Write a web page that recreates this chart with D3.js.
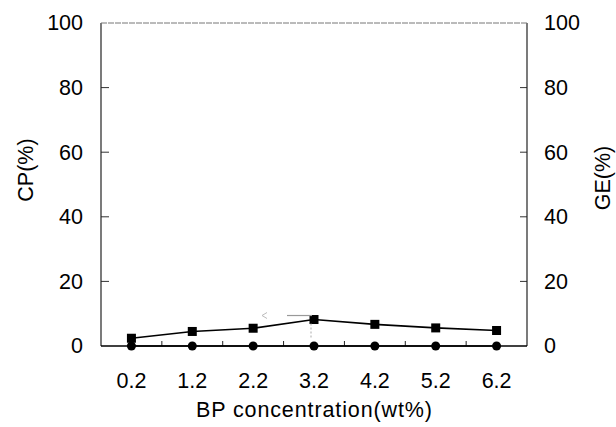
<!DOCTYPE html>
<meta charset="utf-8">
<script src="https://d3js.org/d3.v7.min.js"></script>
<style type="text/css">
body { margin: 0; background: #fff; }
text { font-family: "Liberation Sans", Arial, sans-serif; fill: #000; }
.linha { fill: none; stroke: #000; stroke-width: 1.6; }
.eixo path, .eixo line { stroke: #000; }
.eixo .domain { display: none; }
</style>
<body>
<div id="canvas"></div>
<script>
// dados
var categorias = ["0.2", "1.2", "2.2", "3.2", "4.2", "5.2", "6.2"];
var cp = [2.4, 4.5, 5.5, 8.2, 6.7, 5.6, 4.8];
var ge = [0, 0, 0, 0, 0, 0, 0];
var yTicks = [0, 20, 40, 60, 80, 100];

var width = 616, height = 427;
var margin = {top: 23, right: 89, bottom: 81, left: 101};
var w = width - margin.left - margin.right;
var h = height - margin.top - margin.bottom;

var svg = d3.select('#canvas').append('svg')
    .attr('width', width).attr('height', height);
var g = svg.append('g')
    .attr('transform', 'translate(' + margin.left + ',' + margin.top + ')');

var x = d3.scaleBand().domain(categorias).range([0, w]);
var meio = x.bandwidth() / 2;
var y = d3.scaleLinear().domain([0, 100]).range([h, 0]);

// eixo X (rotulos)
g.append('g')
    .attr('class', 'eixo')
    .attr('transform', 'translate(0,' + h + ')')
    .call(d3.axisBottom(x).tickSize(0).tickPadding(27))
    .selectAll('text').style('font-size', '21.5px');

// riscos entre as categorias
g.selectAll('.risco-x')
    .data(categorias.slice(1))
    .enter().append('line')
    .attr('x1', function(d) { return x(d); })
    .attr('x2', function(d) { return x(d); })
    .attr('y1', h).attr('y2', h - 5)
    .attr('stroke', '#222');

// eixo Y esquerdo
g.append('g')
    .attr('class', 'eixo')
    .call(d3.axisLeft(y).tickValues(yTicks).tickSize(0).tickPadding(18))
    .selectAll('text').style('font-size', '21.5px');
g.selectAll('.risco-y')
    .data(yTicks.slice(1, -1))
    .enter().append('line')
    .attr('x1', 0).attr('x2', 8)
    .attr('y1', function(d) { return y(d); })
    .attr('y2', function(d) { return y(d); })
    .attr('stroke', '#333');

// eixo Y direito
g.append('g')
    .attr('class', 'eixo')
    .attr('transform', 'translate(' + w + ',0)')
    .call(d3.axisRight(y).tickValues(yTicks).tickSize(0).tickPadding(17))
    .selectAll('text').style('font-size', '21.5px');
g.selectAll('.risco-y2')
    .data(yTicks.slice(1, -1))
    .enter().append('line')
    .attr('x1', w).attr('x2', w - 7)
    .attr('y1', function(d) { return y(d); })
    .attr('y2', function(d) { return y(d); })
    .attr('stroke', '#333');

// moldura
g.append('line').attr('x1', 0).attr('x2', 0).attr('y1', 0).attr('y2', h)
    .attr('stroke', '#222').attr('stroke-width', 1.2);
g.append('line').attr('x1', w).attr('x2', w).attr('y1', 0).attr('y2', h)
    .attr('stroke', '#222').attr('stroke-width', 1.2);
g.append('line').attr('x1', 0).attr('x2', w).attr('y1', 0).attr('y2', 0)
    .attr('stroke', '#777').attr('stroke-width', 1).attr('stroke-dasharray', '6,1');
g.append('line').attr('x1', 0).attr('x2', w).attr('y1', h).attr('y2', h)
    .attr('stroke', '#000').attr('stroke-width', 1.6);

// titulos
svg.append('text')
    .attr('transform', 'translate(33,170) rotate(-90)')
    .attr('text-anchor', 'middle')
    .style('font-size', '21.5px')
    .text('CP(%)');
svg.append('text')
    .attr('transform', 'translate(610,178) rotate(-90)')
    .attr('text-anchor', 'middle')
    .style('font-size', '21.5px')
    .text('GE(%)');
svg.append('text')
    .attr('x', margin.left + w / 2).attr('y', 417)
    .attr('text-anchor', 'middle')
    .style('font-size', '21.5px')
    .attr('textLength', 236)
    .text('BP concentration(wt%)');

// linhas
var linhaCp = d3.line()
    .x(function(d, i) { return x(categorias[i]) + meio; })
    .y(function(d) { return y(d); });
g.append('path').attr('class', 'linha').attr('d', linhaCp(cp));
g.append('path').attr('class', 'linha').attr('d', linhaCp(ge));

// pontos
g.selectAll('.quadrado')
    .data(cp).enter().append('rect')
    .attr('x', function(d, i) { return x(categorias[i]) + meio - 4.5; })
    .attr('y', function(d) { return y(d) - 4.5; })
    .attr('width', 9).attr('height', 9)
    .attr('fill', '#000');
g.selectAll('.bola')
    .data(ge).enter().append('circle')
    .attr('cx', function(d, i) { return x(categorias[i]) + meio; })
    .attr('cy', function(d) { return y(d); })
    .attr('r', 4.5)
    .attr('fill', '#000');

// seta indicando o eixo
var xs = x('3.2') + meio, ys = y(cp[3]) - 4;
g.append('line')
    .attr('x1', xs - 27).attr('x2', xs - 2).attr('y1', ys).attr('y2', ys)
    .attr('stroke', '#999').attr('stroke-width', 1.2);
g.append('path')
    .attr('d', 'M' + (xs - 47) + ',' + (ys - 3) + 'L' + (xs - 52) + ',' + ys + 'L' + (xs - 47) + ',' + (ys + 3))
    .attr('fill', 'none').attr('stroke', '#bbb').attr('stroke-width', 1);
g.append('line')
    .attr('x1', xs - 3).attr('x2', xs - 3).attr('y1', ys + 8).attr('y2', ys + 22)
    .attr('stroke', '#aaa').attr('stroke-width', 1).attr('stroke-dasharray', '2,2');
</script>
</body>
